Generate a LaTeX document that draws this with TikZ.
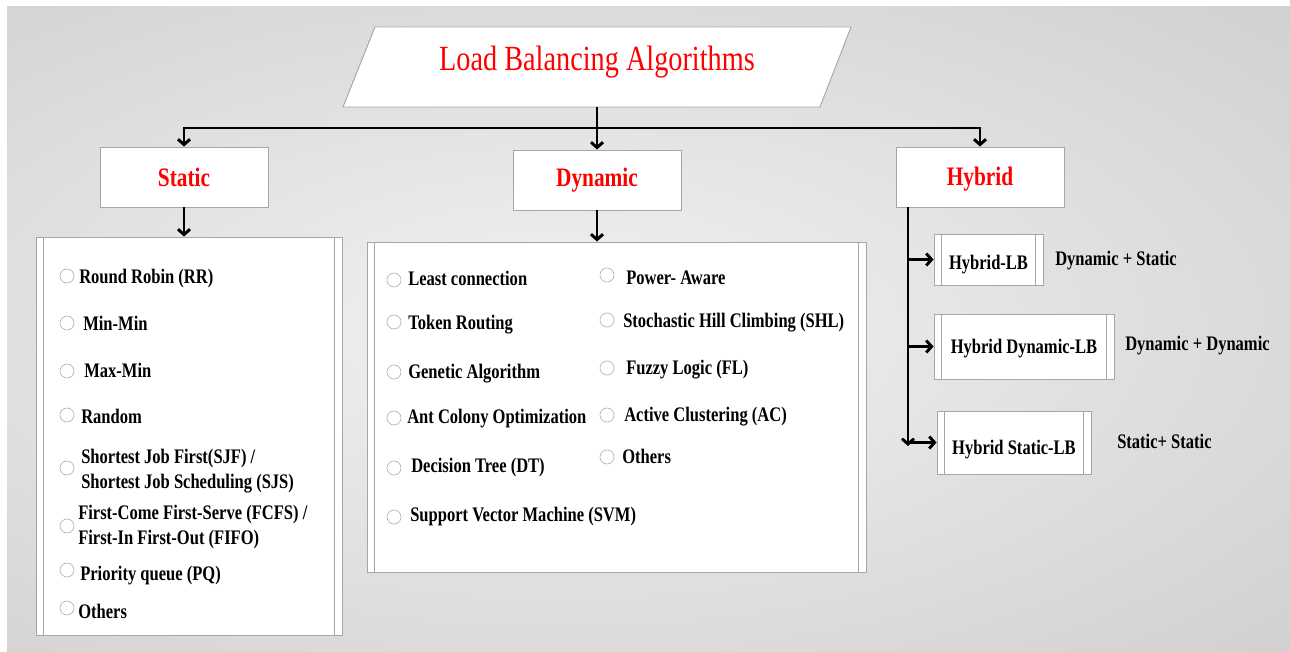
\documentclass[tikz,border=0pt]{standalone}
\usepackage{fontspec}
\setmainfont{Liberation Serif}[FakeStretch=0.8]
\usetikzlibrary{arrows.meta}
\definecolor{bgin}{HTML}{F2F2F2}
\definecolor{bgout}{HTML}{BDBDBD}
\definecolor{bord}{HTML}{A6A6A6}
\definecolor{circ}{HTML}{B0B0B0}
\pgfdeclareradialshading{bgshade}{\pgfpoint{0bp}{0bp}}{color(0bp)=(bgin); color(50bp)=(bgout); color(100bp)=(bgout)}
\newcommand\itemfont{\fontsize{15.5}{18.6}\selectfont\bfseries}
\newcommand\headfont{\fontsize{20}{24}\selectfont\bfseries}
\newcommand\titlefont{\fontsize{26.5}{30}\selectfont}
\begin{document}
\begin{tikzpicture}[x=0.75pt,y=-0.75pt,
  box/.style={draw=bord, line width=0.7pt, fill=white, inner sep=0pt},
  head/.style={box, minimum width=126pt, minimum height=45pt, font=\headfont, text=red},
  item/.style={anchor=base west, inner sep=0pt, font=\itemfont},
  item2/.style={anchor=west, inner sep=0pt, font=\itemfont, align=left},
  bullet/.style={circle, draw=circ, fill=white, line width=0.5pt, minimum size=10.5pt, inner sep=0pt},
  thinl/.style={draw=bord, line width=0.6pt},
  wire/.style={line width=2.2pt},
  conn/.style={line width=2.2pt, -{Straight Barb[length=4pt,width=9pt]}}]
\useasboundingbox (0,0) rectangle (1290,652);
\fill[white] (0,0) rectangle (1290,652);
\begin{scope}
\clip (7,7) rectangle (1290,652);
\shade[shading=bgshade] (-240,-40) rectangle (1360,700);
\end{scope}

% title
\draw[box] (375,27) -- (851,27) -- (820,107) -- (343,107) -- cycle;
\node[minimum width=358.5pt, minimum height=60pt, inner sep=0pt] (title) at (597,67) {};
\node[font=\titlefont, text=red, inner sep=0pt] (titletext) at (597,62) {Load Balancing Algorithms};

% heads
\node[head] (static) at (184,177) {Static};
\node[head] (dyn) at (597,180) {Dynamic};
\node[head, text height=18pt, text depth=4.5pt] (hyb) at (980,177) {Hybrid};

% lists
\node[box, minimum width=229.5pt, minimum height=298.5pt] (slist) at (189,436) {};
\node[box, minimum width=374.25pt, minimum height=247.5pt] (dlist) at (616.5,407) {};
\node[box, minimum width=81.75pt, minimum height=38.25pt, font=\itemfont, text height=19pt, text depth=3.4pt] (hlb) at (988.5,259.5) {Hybrid-LB};
\node[box, minimum width=135pt, minimum height=48.75pt, font=\itemfont, text height=13.5pt, text depth=3.4pt] (hdlb) at (1024,346.5) {Hybrid Dynamic-LB};
\node[box, minimum width=115.5pt, minimum height=47.25pt, font=\itemfont, text height=22pt, text depth=3.4pt] (hslb) at (1014,442.5) {Hybrid Static-LB};
\foreach \n in {slist,dlist,hlb,hdlb,hslb}{
  \draw[thinl] ([xshift=6pt]\n.north west) -- ([xshift=6pt]\n.south west);
  \draw[thinl] ([xshift=-6pt]\n.north east) -- ([xshift=-6pt]\n.south east);
}

% connectors
\coordinate (hl) at (184,128);
\coordinate (hr) at (980,128);
\draw[wire, line cap=rect] (hl) -- (hr);
\draw[conn] (title.south) -- (dyn.north);
\draw[conn] (hl) -- (hl |- static.north);
\draw[conn] (hr) -- (hr |- hyb.north);
\draw[conn] (static.south) -- (static.south |- slist.north);
\draw[conn] (dyn.south) -- (dyn.south |- dlist.north);
\coordinate (trunk) at (908,446);
\draw[conn] (hyb.south west -| trunk) -- (trunk);
\draw[conn] (trunk |- hlb.west) -- (hlb.west);
\draw[conn] (trunk |- hdlb.west) -- (hdlb.west);
\draw[conn] (trunk |- hslb.west) -- (hslb.west);

% static items
\foreach \x/\y [count=\i] in {67/276,67/323,67/371,67/415,67/468,67/526,67/570,67/608}
  \node[bullet] (sb\i) at (\x,\y) {};
\node[item] (s1) at (79,283.5) {Round Robin (RR)};
\node[item] (s2) at (83,330.5) {Min-Min};
\node[item] (s3) at (84,377.5) {Max-Min};
\node[item] (s4) at (81,423.5) {Random};
\node[item2] (s5) at (81,471) {Shortest Job First(SJF) /\\Shortest Job Scheduling (SJS)};
\node[item2] (s6) at (78,527) {First-Come First-Serve (FCFS) /\\First-In First-Out (FIFO)};
\node[item] (s7) at (80,580.5) {Priority queue (PQ)};
\node[item] (s8) at (78,618.5) {Others};

% dynamic items
\foreach \x/\y [count=\i] in {394/280,394/322,394/372,394/418,394/468,394/517,607/275,607/320,607/368,607/415,607/457}
  \node[bullet] (db\i) at (\x,\y) {};
\node[item] (d1) at (408,285.5) {Least connection};
\node[item] (d2) at (408,329.5) {Token Routing};
\node[item] (d3) at (408,378.5) {Genetic Algorithm};
\node[item] (d4) at (407,423.5) {Ant Colony Optimization};
\node[item] (d5) at (411,472.5) {Decision Tree (DT)};
\node[item] (d6) at (410,521.5) {Support Vector Machine (SVM)};
\node[item] (d7) at (626,284.5) {Power- Aware};
\node[item] (d8) at (623,327.5) {Stochastic Hill Climbing (SHL)};
\node[item] (d9) at (626,374.5) {Fuzzy Logic (FL)};
\node[item] (d10) at (624,421.5) {Active Clustering (AC)};
\node[item] (d11) at (622,463.5) {Others};

% hybrid labels
\node[item] (h1) at (1055,265.5) {Dynamic + Static};
\node[item] (h2) at (1125,350.5) {Dynamic + Dynamic};
\node[item] (h3) at (1117,448.5) {Static+ Static};
\end{tikzpicture}
\end{document}
